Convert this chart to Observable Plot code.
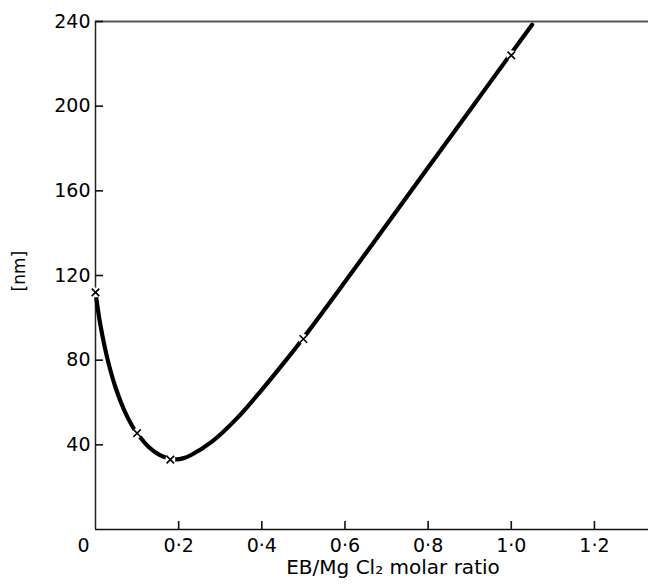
<!DOCTYPE html>
<html>
<head>
<meta charset="utf-8">
<script src="https://cdn.jsdelivr.net/npm/d3@7"></script>
<script src="https://cdn.jsdelivr.net/npm/@observablehq/plot@0.6"></script>
<style>
  html, body { margin: 0; padding: 0; background: #fff; }
  #chart svg { display: block; }
</style>
</head>
<body>
<div id="chart"></div>
<script>
// Smooth curve
const curveX = [0, 0.012, 0.028, 0.048, 0.068, 0.088, 0.1, 0.13, 0.155, 0.18, 0.195, 0.21, 0.23, 0.28, 0.34, 0.4, 0.45, 0.5, 0.6, 0.7, 0.8, 0.9, 1.0, 1.05];
const curveY = [112, 96.4, 81.2, 67.2, 56.8, 49, 45.5, 38.6, 35.1, 33.4, 33.1, 33.6, 35.2, 41.5, 52.5, 66, 78, 90.5, 117, 144, 171, 198, 225, 238.5];
// Measured points (x marks)
const pointX = [0, 0.1, 0.18, 0.5, 1.0];
const pointY = [112, 45.5, 33, 90, 224];
// Ticks
const xTicks = [0.2, 0.4, 0.6, 0.8, 1.0, 1.2];
const yTicks = [40, 80, 120, 160, 200, 240];
const xLabel = "EB/Mg Cl₂ molar ratio";
const yLabel = "[nm]";

const curve = curveX.map((x, i) => ({x, y: curveY[i]}));
const points = pointX.map((x, i) => ({x, y: pointY[i]}));
const fmt = d => d.toFixed(1).replace(".", "·");

const width = 648, height = 585;
const mL = 95, mR = 0, mT = 21, mB = 56;
const xDom = [0, 1.33], yDom = [0, 240];
// inward tick length of 8px expressed through the scales
const tickLenX = 8 * (xDom[1] - xDom[0]) / (width - mL - mR);
const tickLenY = 8 * (yDom[1] - yDom[0]) / (height - mT - mB);

const chart = Plot.plot({
  width, height,
  marginLeft: mL, marginRight: mR, marginTop: mT, marginBottom: mB,
  style: {fontFamily: "DejaVu Sans", fontSize: "19px", color: "#000", background: "#fff"},
  x: {domain: xDom},
  y: {domain: yDom},
  marks: [
    // frame lines
    Plot.ruleY([240], {stroke: "#555", strokeWidth: 2}),
    Plot.ruleY([0], {stroke: "#111", strokeWidth: 1.5}),
    Plot.ruleX([0], {stroke: "#222", strokeWidth: 1.5}),
    // inward ticks
    Plot.ruleY(yTicks, {y: d => d, x1: () => 0, x2: () => tickLenX, stroke: "#111", strokeWidth: 1.6}),
    Plot.ruleX(xTicks, {x: d => d, y1: () => 0, y2: () => tickLenY, stroke: "#111", strokeWidth: 1.6}),
    // tick labels
    Plot.axisY({ticks: yTicks, tickSize: 0, tickPadding: 5, label: null, fontSize: 19}),
    Plot.axisX({ticks: xTicks, tickSize: 0, tickPadding: 9, tickFormat: fmt, label: null, fontSize: 19}),
    Plot.text(["0"], {x: () => 0, y: () => 0, dx: -12, dy: 16, fontSize: 19}),
    // curve
    Plot.line(curve, {x: "x", y: "y", stroke: "#000", strokeWidth: 4.2, curve: "catmull-rom"}),
    // gaps around marks
    Plot.dot(points, {x: "x", y: "y", r: 5, fill: "#fff", stroke: "none"}),
    Plot.dot(points, {x: "x", y: "y", symbol: "times", r: 3.5, stroke: "#000", strokeWidth: 1.6}),
    // axis titles
    Plot.text([xLabel], {frameAnchor: "bottom", dx: 21, dy: 44, fontSize: 20}),
    Plot.text([yLabel], {frameAnchor: "left", dx: -76, dy: 16, rotate: -90, fontSize: 17})
  ]
});
document.getElementById("chart").appendChild(chart);
</script>
</body>
</html>
